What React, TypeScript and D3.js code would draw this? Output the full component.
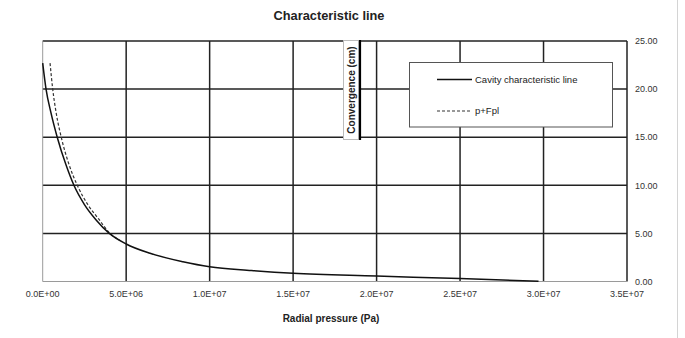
import React from "react";
import * as d3 from "d3";

const W = 685;
const H = 338;

// Cavity characteristic line (Pa -> cm)
const cavityP = [0, 0.2e6, 0.5e6, 0.87e6, 1.4e6, 1.87e6, 2.5e6, 3.2e6, 3.99e6, 5.0e6, 6.43e6, 8.4e6, 1.0e7, 1.25e7, 1.5e7, 2.0e7, 2.5e7, 2.97e7];
const cavityV = [22.7, 20, 17.5, 15, 12.1, 10, 8.0, 6.4, 5.0, 3.9, 2.93, 2.06, 1.54, 1.15, 0.85, 0.57, 0.3, 0.02];

// p+Fpl
const fplP = [0.44e6, 0.6e6, 0.82e6, 1.11e6, 1.55e6, 2.07e6, 2.7e6, 3.35e6, 4.03e6, 4.6e6];
const fplV = [22.7, 20, 17.4, 15, 12.3, 10, 8.0, 6.5, 5.0, 4.3];

const xTicks = [0, 5e6, 1e7, 1.5e7, 2e7, 2.5e7, 3e7, 3.5e7];
const xTickLabels = ["0.0E+00", "5.0E+06", "1.0E+07", "1.5E+07", "2.0E+07", "2.5E+07", "3.0E+07", "3.5E+07"];
const yTicks = [0, 5, 10, 15, 20, 25];
const yTickLabels = ["0.00", "5.00", "10.00", "15.00", "20.00", "25.00"];

const seriesNames = ["Cavity characteristic line", "p+Fpl"];

const FONT = "'Liberation Sans', Arial, sans-serif";

export default function App() {
  const x = d3.scaleLinear().domain([0, 3.5e7]).range([42.7, 627]);
  const y = d3.scaleLinear().domain([0, 25]).range([281.5, 41]);

  const line = d3
    .line<[number, number]>()
    .x((d) => x(d[0]))
    .y((d) => y(d[1]))
    .curve(d3.curveMonotoneX);

  const cavity = cavityP.map((p, i) => [p, cavityV[i]] as [number, number]);
  const fpl = fplP.map((p, i) => [p, fplV[i]] as [number, number]);

  const grid = "#222";
  const x0 = x(0), x1 = x(3.5e7), y0 = y(0), y1 = y(25);

  return (
    <div style={{ position: "absolute", left: 0, top: 0 }}>
      <svg width={W} height={H} style={{ display: "block", background: "#fff" }} fontFamily={FONT}>
        <rect x={0} y={0} width={W} height={H} fill="#fff" />
        <line x1={677.5} x2={677.5} y1={0} y2={H} stroke="#d4d4d4" strokeWidth={1} />

        {/* vertical gridlines */}
        {xTicks.map((t, i) =>
          i === 0 ? null : (
            <line key={"vx" + i} x1={x(t)} x2={x(t)} y1={y1} y2={y0} stroke={grid} strokeWidth={1.5} />
          )
        )}
        {/* horizontal gridlines */}
        {yTicks.map((t, i) =>
          i === 0 ? null : (
            <line key={"hy" + i} x1={x0} x2={x1} y1={y(t)} y2={y(t)} stroke={grid} strokeWidth={1.5} />
          )
        )}
        {/* left and bottom border (light) */}
        <line x1={x0} x2={x0} y1={y1} y2={y0} stroke="#9a9a9a" strokeWidth={1} />
        <line x1={x0} x2={x1} y1={y0} y2={y0} stroke="#9a9a9a" strokeWidth={1.2} />

        {/* series */}
        <path d={line(fpl) || ""} fill="none" stroke="#333" strokeWidth={1.2} strokeDasharray="3,2" />
        <path d={line(cavity) || ""} fill="none" stroke="#111" strokeWidth={1.5} />

        {/* x tick labels */}
        {xTicks.map((t, i) => (
          <text key={"xt" + i} x={x(t)} y={297} textAnchor="middle" fontSize={9} fill="#333">
            {xTickLabels[i]}
          </text>
        ))}
        {/* right y tick labels */}
        {yTicks.map((t, i) => (
          <text key={"yt" + i} x={635} y={y(t) + 3.2} textAnchor="start" fontSize={9} fill="#333">
            {yTickLabels[i]}
          </text>
        ))}

        {/* title */}
        <text x={329} y={20} textAnchor="middle" fontSize={12.8} fontWeight="bold" fill="#222">
          Characteristic line
        </text>
        {/* x axis title */}
        <text x={331} y={321.5} textAnchor="middle" fontSize={10} fontWeight="bold" fill="#222">
          Radial pressure (Pa)
        </text>

        {/* y axis title box */}
        <rect x={343.5} y={40.5} width={15} height={99} fill="#fff" stroke="#bbb" strokeWidth={1} />
        <line x1={360} x2={360} y1={40} y2={140} stroke="#000" strokeWidth={2.2} />
        <text
          transform={`translate(${354.5},${90}) rotate(-90)`}
          textAnchor="middle"
          fontSize={10}
          fontWeight="bold"
          fill="#222"
        >
          Convergence (cm)
        </text>

        {/* legend */}
        <rect x={409.5} y={62.5} width={203} height={64.5} fill="#fff" stroke="#555" strokeWidth={1} />
        <line x1={437} x2={472} y1={79.5} y2={79.5} stroke="#111" strokeWidth={1.4} />
        <text x={475} y={82.8} fontSize={9.5} fill="#222">{seriesNames[0]}</text>
        <line x1={437} x2={472} y1={111} y2={111} stroke="#333" strokeWidth={1.2} strokeDasharray="3,2" />
        <text x={475} y={114.3} fontSize={9.5} fill="#222">{seriesNames[1]}</text>
      </svg>
    </div>
  );
}
